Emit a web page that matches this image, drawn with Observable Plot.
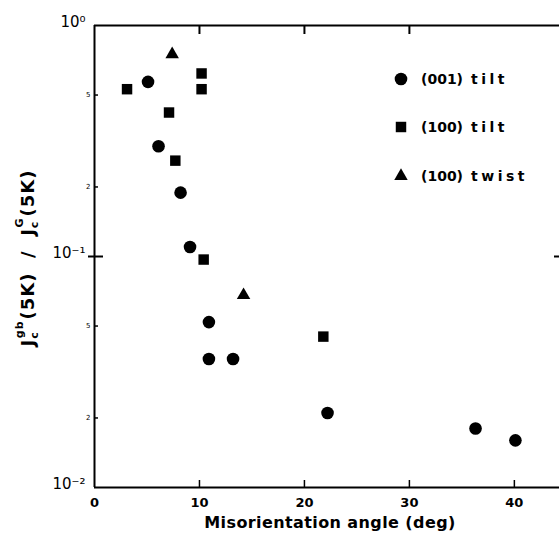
<!DOCTYPE html>
<html><head><meta charset="utf-8">
<script src="https://cdn.jsdelivr.net/npm/d3@7"></script>
<script src="https://cdn.jsdelivr.net/npm/@observablehq/plot@0.6"></script>
<style>body{margin:0;background:#fff;} svg{display:block;}</style>
</head><body><div id="chart"></div>
<script>
const series = ["(001) tilt", "(100) tilt", "(100) twist"];
const tilt001Angle = [5.1, 6.1, 8.2, 9.1, 10.9, 10.9, 13.2, 22.2, 36.3, 40.1];
const tilt001Ratio = [0.57, 0.30, 0.189, 0.110, 0.052, 0.036, 0.036, 0.021, 0.018, 0.016];
const tilt100Angle = [3.1, 10.2, 10.2, 7.1, 7.7, 10.4, 21.8];
const tilt100Ratio = [0.53, 0.62, 0.53, 0.42, 0.26, 0.097, 0.045];
const twist100Angle = [7.4, 14.2];
const twist100Ratio = [0.75, 0.068];
const xTicks = [0, 10, 20, 30, 40];
const xTopTicks = [10, 20, 30];
const yMajor = [1, 0.1, 0.01];
const yMajorLabels = ["10⁰", "10⁻¹", "10⁻²"];
const yMinor = [0.5, 0.2, 0.05, 0.02];
const yMinorLabels = ["5", "2", "5", "2"];

const data = [
  ...tilt001Angle.map((a, i) => ({angle: a, ratio: tilt001Ratio[i], s: series[0]})),
  ...tilt100Angle.map((a, i) => ({angle: a, ratio: tilt100Ratio[i], s: series[1]})),
  ...twist100Angle.map((a, i) => ({angle: a, ratio: twist100Ratio[i], s: series[2]}))
];

const W = 559, H = 546;
const mL = 94, mR = 0, mT = 25, mB = 59;
const xDomain = [0, 44.3];
const yDomain = [0.01, 1];
const pxPerX = (W - mL - mR) / (xDomain[1] - xDomain[0]);
const pxPerDecade = (H - mT - mB) / 2;
const k = px => Math.pow(10, px / pxPerDecade);
const font = "'DejaVu Sans', sans-serif";
const sizes = {[series[0]]: 6.3, [series[1]]: 5.9, [series[2]]: 5};

const svg = Plot.plot({
  width: W, height: H,
  marginLeft: mL, marginRight: mR, marginTop: mT, marginBottom: mB,
  style: {fontFamily: font, background: "#fff", color: "#000"},
  x: {domain: xDomain, axis: null},
  y: {type: "log", domain: yDomain, axis: null},
  r: {type: "identity"},
  symbol: {domain: series, range: ["circle", "square", "triangle"]},
  marks: [
    Plot.ruleY([yDomain[0]], {stroke: "#000", strokeWidth: 2}),
    Plot.ruleY([yDomain[1]], {stroke: "#000", strokeWidth: 2}),
    Plot.ruleX([xDomain[0]], {stroke: "#000", strokeWidth: 2}),
    Plot.ruleX(xTicks.slice(1), {x: d => d, y1: yDomain[0], y2: yDomain[0] * k(7), stroke: "#000", strokeWidth: 1.5}),
    Plot.ruleX(xTopTicks, {x: d => d, y1: yDomain[1], y2: yDomain[1] / k(9), stroke: "#000", strokeWidth: 2}),
    Plot.ruleY(yMajor.slice(1, 2), {y: d => d, x1: -6 / pxPerX, x2: 9 / pxPerX, stroke: "#000", strokeWidth: 2}),
    Plot.ruleY(yMajor.slice(1, 2), {y: d => d, x1: xDomain[1] - 5 / pxPerX, x2: xDomain[1], stroke: "#000", strokeWidth: 2}),
    Plot.ruleY(yMinor, {y: d => d, x1: 0, x2: 4 / pxPerX, stroke: "#000", strokeWidth: 1.5}),
    Plot.text(xTicks, {x: d => d, y: yDomain[0], text: d => String(d), dy: 15, fontSize: 13, fontWeight: "bold", fill: "#000"}),
    Plot.text(yMajor, {x: 0, y: d => d, text: (d, i) => yMajorLabels[i], textAnchor: "end", dx: -9, dy: -3, fontSize: 15, fill: "#000"}),
    Plot.text(yMinor, {x: 0, y: d => d, text: (d, i) => yMinorLabels[i], textAnchor: "end", dx: -4, fontSize: 7, fill: "#000"}),
    Plot.dot(data, {x: "angle", y: "ratio", symbol: "s", fill: "#000", stroke: "none", r: d => sizes[d.s]})
  ]
});

const g = d3.select(svg);
// legend
const legendY = [79, 127, 176];
const legendSyms = [d3.symbolCircle, d3.symbolSquare, d3.symbolTriangle];
series.forEach((s, i) => {
  g.append("path")
    .attr("d", d3.symbol(legendSyms[i], Math.PI * sizes[s] * sizes[s])())
    .attr("transform", `translate(401,${legendY[i]})`)
    .attr("fill", "#000");
  const parts = s.split(" ");
  const t = g.append("text").attr("x", 421).attr("y", legendY[i]).attr("dy", "0.35em")
    .attr("text-anchor", "start")
    .attr("font-family", font).attr("font-size", 14).attr("font-weight", "bold").attr("fill", "#000");
  t.append("tspan").text(parts[0]);
  t.append("tspan").attr("dx", 8).attr("letter-spacing", 3.5).text(parts[1]);
});

// y-axis title
const yt = g.append("text")
  .attr("transform", "translate(34,258) rotate(-90)")
  .attr("text-anchor", "middle")
  .attr("font-family", font).attr("font-size", 18).attr("font-weight", "bold")
  .attr("letter-spacing", 1).attr("fill", "#000");
yt.append("tspan").text("J");
yt.append("tspan").attr("dy", 4).attr("font-size", 11).text("c");
yt.append("tspan").attr("dx", -7).attr("dy", -15).attr("font-size", 11).text("gb");
yt.append("tspan").attr("dy", 11).attr("dx", 1).text("(5K)  /  J");
yt.append("tspan").attr("dy", 4).attr("font-size", 11).text("c");
yt.append("tspan").attr("dx", -7).attr("dy", -15).attr("font-size", 11).text("G");
yt.append("tspan").attr("dy", 11).attr("dx", 1).text("(5K)");

// x-axis title
g.append("text")
  .attr("x", 330).attr("y", 528)
  .attr("text-anchor", "middle")
  .attr("font-family", font).attr("font-size", 16).attr("font-weight", "bold")
  .attr("letter-spacing", 0.4).attr("fill", "#000")
  .text("Misorientation angle (deg)");

document.getElementById("chart").appendChild(svg);
</script>
</body></html>
